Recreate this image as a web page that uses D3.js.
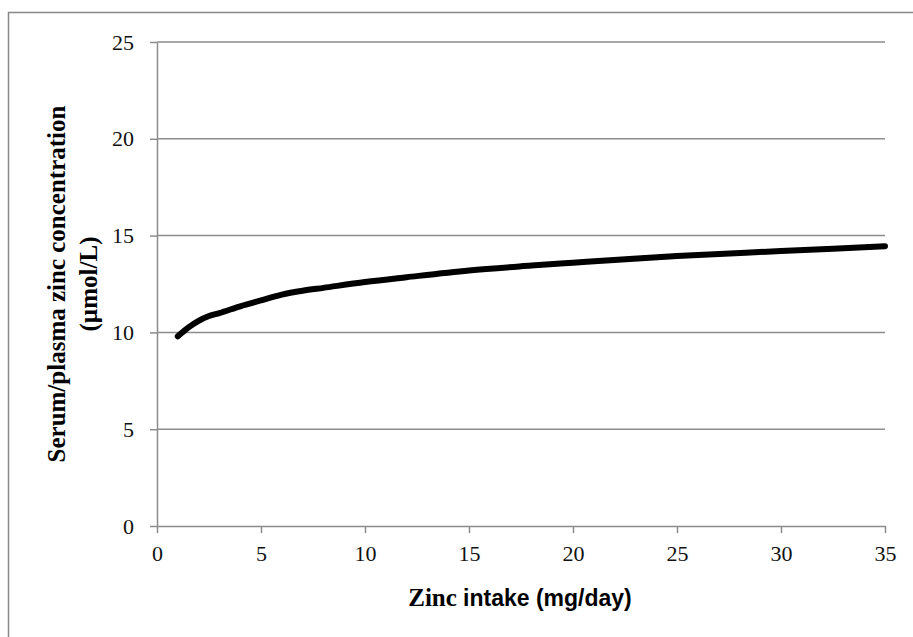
<!DOCTYPE html>
<html>
<head>
<meta charset="utf-8">
<script src="https://cdnjs.cloudflare.com/ajax/libs/d3/7.8.5/d3.min.js"></script>
<style>
  body { margin: 0; background: #fff; }
  .tick text { font-family: "Liberation Serif", serif; font-size: 22px; fill: #111; }
</style>
</head>
<body>
<div id="chart"></div>
<script>
// zinc intake (mg/day) vs serum/plasma zinc (umol/L)
var intake = [1, 1.5, 2, 2.5, 3, 4, 5, 6, 7, 8, 10, 12, 15, 18, 20, 25, 30, 35];
var serumZinc = [9.8, 10.25, 10.6, 10.85, 11.0, 11.35, 11.65, 11.95, 12.15, 12.3, 12.6, 12.85, 13.2, 13.45, 13.6, 13.95, 14.2, 14.45];
var xTicks = [0, 5, 10, 15, 20, 25, 30, 35];
var yTicks = [0, 5, 10, 15, 20, 25];

var svgWidth = 913;
var svgHeight = 637;

var margin = { top: 42, right: 28, bottom: 111, left: 157 };
var width = svgWidth - margin.left - margin.right;
var height = svgHeight - margin.top - margin.bottom;

var svg = d3.select("#chart")
  .append("svg")
  .attr("width", svgWidth)
  .attr("height", svgHeight);

// outer frame (only top and left edges show in the picture)
svg.append("rect")
  .attr("x", 8.5)
  .attr("y", 12.5)
  .attr("width", svgWidth + 20)
  .attr("height", svgHeight + 20)
  .attr("fill", "none")
  .attr("stroke", "#888")
  .attr("stroke-width", 1.5);

var chart = svg.append("g")
  .attr("transform", `translate(${margin.left}, ${margin.top})`);

var xLinear = d3.scaleLinear().domain([0, 35]).range([0, width]);
var yLinear = d3.scaleLinear().domain([0, 25]).range([height, 0]);

// gridlines
chart.append("g")
  .selectAll("line")
  .data(yTicks.slice(1))
  .enter()
  .append("line")
  .attr("x1", 0)
  .attr("x2", width)
  .attr("y1", d => yLinear(d))
  .attr("y2", d => yLinear(d))
  .attr("stroke", "#8c8c8c")
  .attr("stroke-width", 1.5);

var xAxis = chart.append("g")
  .attr("transform", `translate(0, ${height})`)
  .call(d3.axisBottom(xLinear).tickValues(xTicks).tickSize(7).tickPadding(12).tickSizeOuter(0));

var yAxis = chart.append("g")
  .call(d3.axisLeft(yLinear).tickValues(yTicks).tickSize(7).tickPadding(16).tickSizeOuter(0));

[xAxis, yAxis].forEach(function(ax) {
  ax.select(".domain").attr("stroke", "#8c8c8c").attr("stroke-width", 1.5);
  ax.selectAll(".tick line").attr("stroke", "#8c8c8c").attr("stroke-width", 1.5);
});

var line = d3.line()
  .x((d, i) => xLinear(intake[i]))
  .y(d => yLinear(d))
  .curve(d3.curveMonotoneX);

chart.append("path")
  .datum(serumZinc)
  .attr("d", line)
  .attr("fill", "none")
  .attr("stroke", "#000")
  .attr("stroke-width", 6)
  .attr("stroke-linecap", "round");

// y axis title, two lines
var yTitle = svg.append("text")
  .attr("transform", `translate(0, ${margin.top + height / 2}) rotate(-90)`)
  .attr("text-anchor", "middle")
  .attr("font-family", "Liberation Serif, serif")
  .attr("font-weight", "bold")
  .attr("font-size", 25);

yTitle.append("tspan").attr("x", 0).attr("y", 65).text("Serum/plasma zinc concentration");
yTitle.append("tspan").attr("x", 0).attr("y", 97).text("(µmol/L)");

// x axis title, mixed fonts like the original
var xTitle = svg.append("text")
  .attr("x", 520)
  .attr("y", 606)
  .attr("text-anchor", "middle")
  .attr("font-weight", "bold")
  .attr("font-size", 23);

xTitle.append("tspan").attr("font-family", "Liberation Serif, serif").attr("font-size", 25).text("Zinc ");
xTitle.append("tspan").attr("font-family", "Liberation Sans, sans-serif").text("intake (mg/day)");
</script>
</body>
</html>
